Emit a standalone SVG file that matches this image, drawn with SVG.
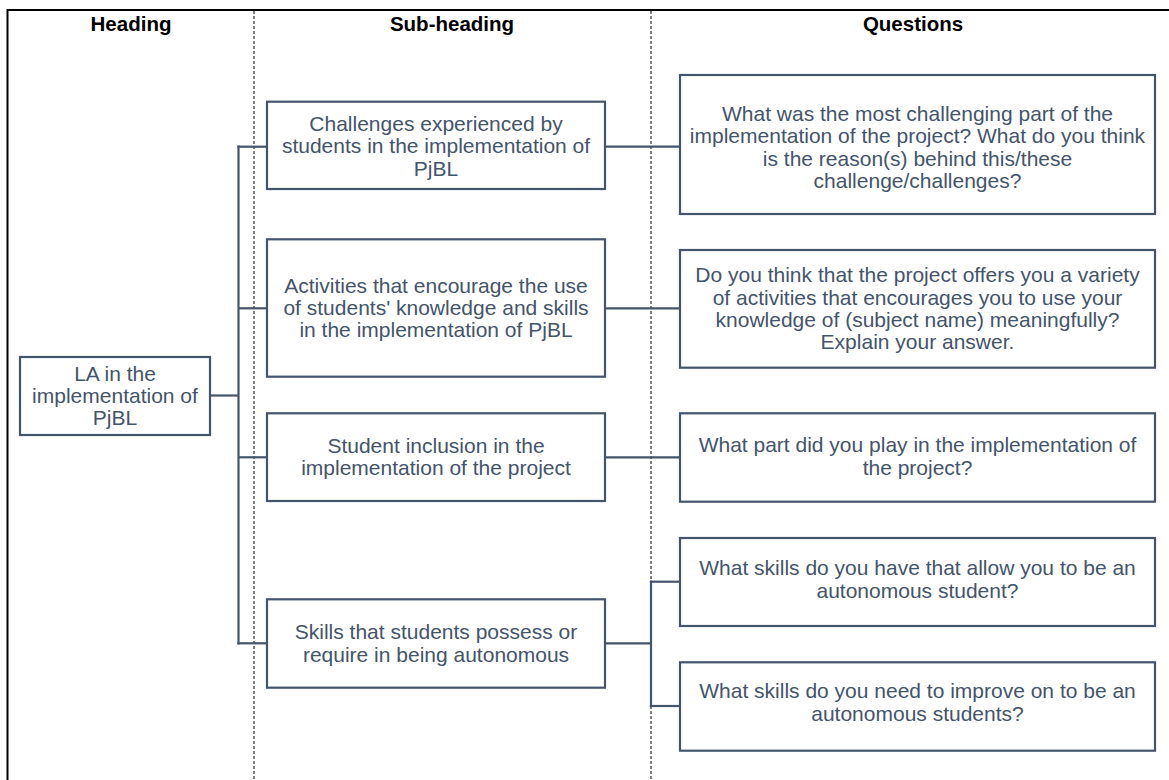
<svg xmlns="http://www.w3.org/2000/svg" width="1169" height="780" viewBox="0 0 1169 780">
  <style>
    .frame { stroke: #000; stroke-width: 2; fill: none; }
    .divider { stroke: #000; stroke-width: 1; stroke-dasharray: 3 2; fill: none; }
    .box { fill: #fff; stroke: #44546A; stroke-width: 2.2; }
    .link { stroke: #44546A; stroke-width: 2.2; fill: none; }
    .head { font-family: "Liberation Sans", Arial, sans-serif; font-size: 20.5px; font-weight: bold; fill: #000; text-anchor: middle; }
    .txt { font-family: "Liberation Sans", Arial, sans-serif; font-size: 21px; fill: #44546A; text-anchor: middle; }
  </style>

  <!-- page frame and column dividers -->
  <g id="frame">
    <line class="frame" x1="7.5" y1="10" x2="1169" y2="10"/>
    <line class="frame" x1="7.5" y1="9" x2="7.5" y2="780"/>
    <line class="divider" x1="254" y1="11" x2="254" y2="780"/>
    <line class="divider" x1="651" y1="11" x2="651" y2="780"/>
  </g>

  <!-- column headings -->
  <g id="headings">
    <text class="head" x="131" y="31">Heading</text>
    <text class="head" x="452" y="31">Sub-heading</text>
    <text class="head" x="913" y="31">Questions</text>
  </g>

  <!-- connectors -->
  <g id="connectors">
    <line class="link" x1="210" y1="395.5" x2="239" y2="395.5" stroke-width="3"/>
    <line class="link" x1="238.5" y1="145.6" x2="238.5" y2="644.4"/>
    <line class="link" x1="237.4" y1="146.7" x2="267" y2="146.7"/>
    <line class="link" x1="238.5" y1="308.3" x2="267" y2="308.3"/>
    <line class="link" x1="238.5" y1="457.3" x2="267" y2="457.3"/>
    <line class="link" x1="237.4" y1="643.3" x2="267" y2="643.3"/>
    <line class="link" x1="605" y1="146.7" x2="680" y2="146.7"/>
    <line class="link" x1="605" y1="308.3" x2="680" y2="308.3"/>
    <line class="link" x1="605" y1="457.3" x2="680" y2="457.3"/>
    <line class="link" x1="605" y1="643.3" x2="651" y2="643.3"/>
    <line class="link" x1="651" y1="580.6" x2="651" y2="707.1"/>
    <line class="link" x1="649.9" y1="581.7" x2="680" y2="581.7"/>
    <line class="link" x1="649.9" y1="706" x2="680" y2="706"/>
  </g>

  <!-- heading node -->
  <g id="la-implementation">
    <rect class="box" x="20" y="357" width="190" height="78"/>
    <text class="txt" x="115" y="380.5">LA in the</text>
    <text class="txt" x="115" y="402.5">implementation of</text>
    <text class="txt" x="115" y="424.5">PjBL</text>
  </g>

  <!-- sub-heading nodes -->
  <g id="challenges">
    <rect class="box" x="267" y="101.7" width="338" height="87.3"/>
    <text class="txt" x="436" y="130.5">Challenges experienced by</text>
    <text class="txt" x="436" y="153">students in the implementation of</text>
    <text class="txt" x="436" y="175.5">PjBL</text>
  </g>

  <g id="activities">
    <rect class="box" x="267" y="239.3" width="338" height="137.4"/>
    <text class="txt" x="436" y="292.7">Activities that encourage the use</text>
    <text class="txt" x="436" y="315">of students' knowledge and skills</text>
    <text class="txt" x="436" y="337">in the implementation of PjBL</text>
  </g>

  <g id="inclusion">
    <rect class="box" x="267" y="413.3" width="338" height="87.7"/>
    <text class="txt" x="436" y="452.7">Student inclusion in the</text>
    <text class="txt" x="436" y="475">implementation of the project</text>
  </g>

  <g id="skills">
    <rect class="box" x="267" y="599.3" width="338" height="88.4"/>
    <text class="txt" x="436" y="639">Skills that students possess or</text>
    <text class="txt" x="436" y="661.5">require in being autonomous</text>
  </g>

  <!-- question nodes -->
  <g id="q-challenging-part">
    <rect class="box" x="680" y="75" width="475" height="139"/>
    <text class="txt" x="917.5" y="120.5">What was the most challenging part of the</text>
    <text class="txt" x="917.5" y="143">implementation of the project? What do you think</text>
    <text class="txt" x="917.5" y="165.5">is the reason(s) behind this/these</text>
    <text class="txt" x="917.5" y="188">challenge/challenges?</text>
  </g>

  <g id="q-variety">
    <rect class="box" x="680" y="250" width="475" height="117.7"/>
    <text class="txt" x="917.5" y="282.3">Do you think that the project offers you a variety</text>
    <text class="txt" x="917.5" y="305">of activities that encourages you to use your</text>
    <text class="txt" x="917.5" y="326.7">knowledge of (subject name) meaningfully?</text>
    <text class="txt" x="917.5" y="349">Explain your answer.</text>
  </g>

  <g id="q-part-played">
    <rect class="box" x="680" y="413.3" width="475" height="88.4"/>
    <text class="txt" x="917.5" y="452.3">What part did you play in the implementation of</text>
    <text class="txt" x="917.5" y="475">the project?</text>
  </g>

  <g id="q-skills-have">
    <rect class="box" x="680" y="538" width="475" height="88"/>
    <text class="txt" x="917.5" y="575">What skills do you have that allow you to be an</text>
    <text class="txt" x="917.5" y="598.3">autonomous student?</text>
  </g>

  <g id="q-skills-improve">
    <rect class="box" x="680" y="662.3" width="475" height="88.4"/>
    <text class="txt" x="917.5" y="698.3">What skills do you need to improve on to be an</text>
    <text class="txt" x="917.5" y="721">autonomous students?</text>
  </g>
</svg>
